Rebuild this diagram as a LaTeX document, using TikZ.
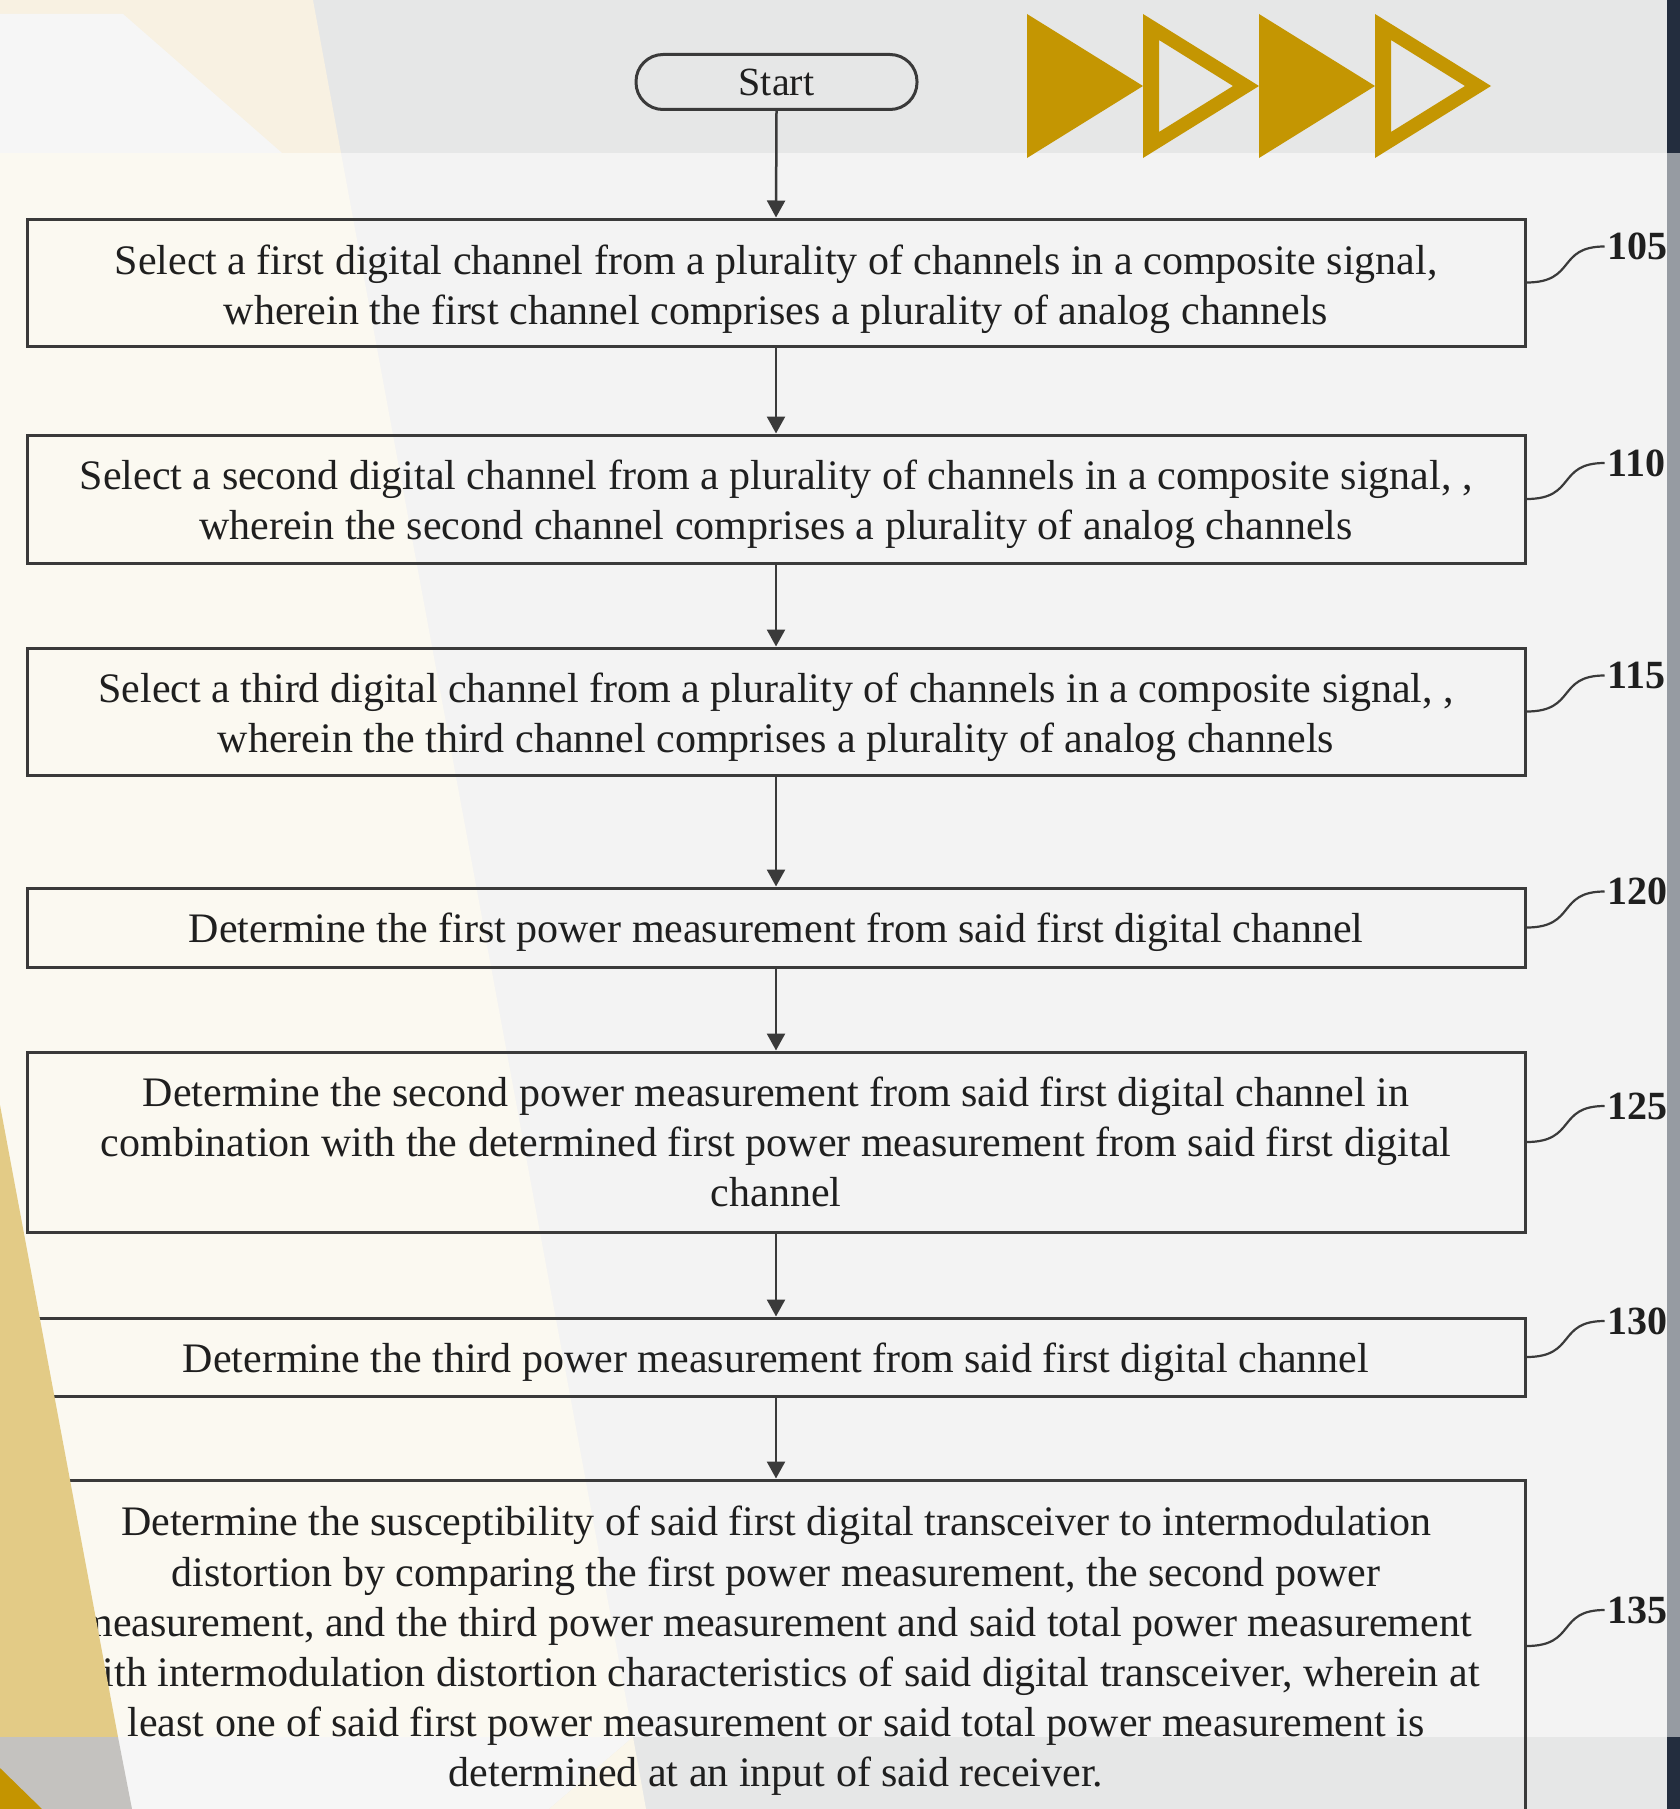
\documentclass[tikz,border=0pt]{standalone}
\usepackage{fontspec}
\setmainfont{Liberation Serif}
\usetikzlibrary{arrows.meta,calc}

\definecolor{bandgray}{HTML}{E6E7E7}
\definecolor{panelgray}{HTML}{F3F3F3}
\definecolor{creammid}{HTML}{FBF9F1}
\definecolor{creamtop}{HTML}{F8F1E2}
\definecolor{creambot}{HTML}{FAF6EA}
\definecolor{palegray}{HTML}{F6F6F6}
\definecolor{stripgray}{HTML}{969BA2}
\definecolor{stripdark}{HTML}{232D3E}
\definecolor{gold}{HTML}{C49602}
\definecolor{sand}{HTML}{E3CB86}
\definecolor{stone}{HTML}{C4C2BF}
\definecolor{ochre}{HTML}{C49400}
\definecolor{boxcol}{HTML}{3A3A3A}
\definecolor{txtcol}{HTML}{1F1F1F}

\tikzset{
  flowbox/.style={draw=boxcol, line width=3pt, minimum width=1498pt, inner sep=0pt},
  boxtext/.style={inner sep=0pt, align=center, text=txtcol,
    font=\fontsize{42}{49.7}\selectfont},
  startbox/.style={draw=boxcol, line width=3pt, minimum width=281pt, minimum height=55pt,
    rounded corners=27pt, inner sep=0pt, text=txtcol, font=\fontsize{40}{46}\selectfont},
  flowarrow/.style={draw=boxcol, line width=2.5pt, -{Triangle[width=18pt,length=17pt]}},
  refnum/.style={anchor=west, inner sep=3pt, text=txtcol, font=\fontsize{40}{46}\selectfont\bfseries},
  leader/.style={draw=boxcol, line width=2.2pt}
}

\begin{document}
\begin{tikzpicture}[x=1pt,y=-1pt]
\useasboundingbox (0,0) rectangle (1680,1809);
\clip (0,0) rectangle (1680,1809);

% --- slide background ---
\fill[panelgray] (0,0) rectangle (1680,1809);
\fill[bandgray] (0,0) rectangle (1680,153);
\fill[bandgray] (0,1737) rectangle (1680,1809);
\fill[creamtop] (0,0) -- (313,0) -- (341,153) -- (0,153) -- cycle;
\fill[palegray] (0,14) -- (123,14) -- (282,153) -- (0,153) -- cycle;
\fill[creammid] (0,153) -- (341,153) -- (633,1737) -- (0,1737) -- cycle;
\fill[palegray] (0,1737) -- (633,1737) -- (549,1809) -- (0,1809) -- cycle;
\fill[creambot] (633,1737) -- (646,1809) -- (549,1809) -- cycle;
\fill[stripgray] (1667,153) rectangle (1680,1737);
\fill[stripdark] (1667,0) rectangle (1680,153);
\fill[stripdark] (1667,1737) rectangle (1680,1809);

% --- chevrons ---
\fill[gold] (1027,14) -- (1143,86) -- (1027,158) -- cycle;
\fill[gold, even odd rule] (1143,14) -- (1259,86) -- (1143,158) -- cycle
  (1159,40) -- (1233,86) -- (1159,132) -- cycle;
\fill[gold] (1259,14) -- (1375,86) -- (1259,158) -- cycle;
\fill[gold, even odd rule] (1375,14) -- (1491,86) -- (1375,158) -- cycle
  (1391,40) -- (1465,86) -- (1391,132) -- cycle;

% --- flowchart boxes ---
\node[startbox] (s) at (776.5,82) {Start};

\node[flowbox, minimum height=127pt] (b1) at (776,282.5) {};
\node[flowbox, minimum height=128pt] (b2) at (776,499) {};
\node[flowbox, minimum height=127pt] (b3) at (776,711.5) {};
\node[flowbox, minimum height=79pt]  (b4) at (776,927.5) {};
\node[flowbox, minimum height=180pt] (b5) at (776,1142) {};
\node[flowbox, minimum height=78pt]  (b6) at (776,1357) {};
\node[flowbox, minimum height=332pt] (b7) at (776,1646) {};

% --- box texts ---
\node[boxtext] (t1) at ([yshift=-7pt]b1.center)
  {Select a first digital channel from a plurality of channels in a composite signal,\\
   wherein the first channel comprises a plurality of analog channels};
\node[boxtext] (t2) at ([yshift=-5pt]b2.center)
  {Select a second digital channel from a plurality of channels in a composite signal, ,\\
   wherein the second channel comprises a plurality of analog channels};
\node[boxtext] (t3) at ([yshift=-6pt]b3.center)
  {Select a third digital channel from a plurality of channels in a composite signal, ,\\
   wherein the third channel comprises a plurality of analog channels};
\node[boxtext] (t4) at ([yshift=-5pt]b4.center)
  {Determine the first power measurement from said first digital channel};
\node[boxtext] (t5) at (b5.center)
  {Determine the second power measurement from said first digital channel in\\
   combination with the determined first power measurement from said first digital\\
   channel};
\node[boxtext] (t6) at ([yshift=-5pt]b6.center)
  {Determine the third power measurement from said first digital channel};
\node[boxtext, font=\fontsize{42}{50.2}\selectfont] (t7) at ([yshift=-5pt]b7.center)
  {Determine the susceptibility of said first digital transceiver to intermodulation\\
   distortion by comparing the first power measurement, the second power\\
   measurement, and the third power measurement and said total power measurement\\
   with intermodulation distortion characteristics of said digital transceiver, wherein at\\
   least one of said first power measurement or said total power measurement is\\
   determined at an input of said receiver.};

% --- flow connectors ---
\draw[flowarrow] (s.south) -- (b1.north);
\draw[flowarrow] (b1.south) -- (b2.north);
\draw[flowarrow] (b2.south) -- (b3.north);
\draw[flowarrow] (b3.south) -- (b4.north);
\draw[flowarrow] (b4.south) -- (b5.north);
\draw[flowarrow] (b5.south) -- (b6.north);
\draw[flowarrow] (b6.south) -- (b7.north);

% --- reference numerals with curved leaders ---
\foreach \b/\n in {b1/105, b2/110, b3/115, b4/120, b5/125, b6/130, b7/135} {
  \node[refnum] (r\n) at ($(\b.east)+(78,-36)$) {\n};
  \draw[leader] (\b.east) .. controls ($(\b.east)+(50,0)$) and ($(r\n.west)+(-48,0)$) .. (r\n.west);
}

% --- left overlay shapes ---
\fill[sand] (0,1105) -- (118,1737) -- (0,1737) -- cycle;
\fill[stone] (0,1737) -- (118,1737) -- (132,1809) -- (0,1809) -- cycle;
\fill[ochre] (0,1768) -- (42,1809) -- (0,1809) -- cycle;
\end{tikzpicture}
\end{document}
